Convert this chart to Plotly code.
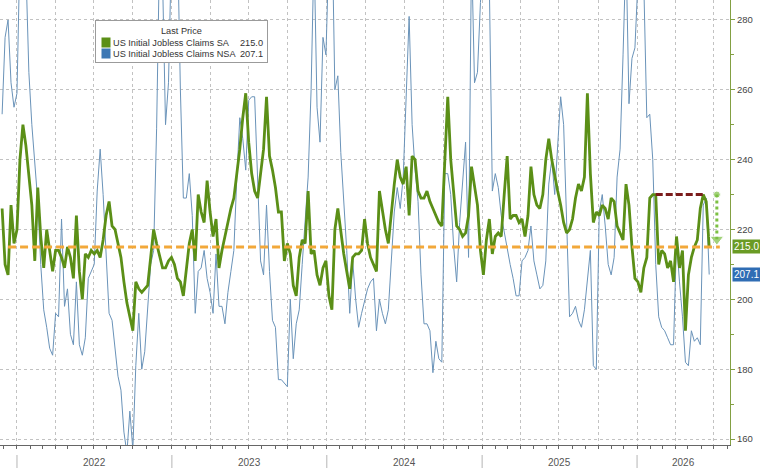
import pandas as pd
import plotly.graph_objects as go

# ---------------- data ----------------
start_date = "2021-11-27"   # weekly observations (week ending Saturday)

sa_claims = [
    226, 210, 207, 227, 216, 220, 240, 250, 244, 235,
    227, 211, 232, 218, 209, 220, 214, 208, 214, 214,
    212, 209, 215, 212, 206, 224, 208, 200, 213, 212,
    214, 213, 214, 212, 217, 224, 228, 221, 220, 216,
    212, 205, 199, 195, 191, 205, 203, 202, 203, 204,
    212, 220, 216, 212, 209, 209, 211, 212, 210, 206,
    205, 201, 209, 216, 220, 211, 230, 225, 222, 234,
    225, 218, 223, 209, 214, 218, 223, 226, 229, 236,
    243, 252, 259, 245, 236, 231, 229, 236, 243, 258,
    241, 237, 232, 225, 225, 211, 216, 213, 204, 201,
    212, 217, 216, 231, 213, 214, 207, 204, 209, 211,
    201, 197, 220, 226, 219, 213, 208, 203, 212, 213,
    213, 214, 223, 216, 212, 210, 208, 231, 225, 220,
    216, 225, 233, 240, 235, 233, 238, 224, 241, 240,
    231, 229, 229, 231, 228, 226, 224, 222, 221, 241,
    258, 240, 230, 221, 220, 218, 219, 224, 238, 232,
    227, 214, 207, 217, 223, 213, 218, 219, 218, 230,
    241, 223, 224, 224, 222, 223, 218, 224, 238, 230,
    227, 226, 230, 240, 246, 240, 235, 231, 227, 222,
    219, 220, 223, 229, 233, 231, 235, 259, 236, 222,
    225, 224, 227, 226, 223, 229, 228, 221, 219, 217,
    233, 227, 215, 206, 205, 202, 209, 212, 229, 230,
    230, 210, 214, 213, 209, 211, 205, 218, 209, 214,
    191, 207, 212, 215, 217, 226, 230, 228, 215.0,
]

nsa_claims = [
    253, 275, 280, 262, 255, 259, 300, 310, 295, 265,
    250, 240, 228, 210, 197, 192, 186, 184, 196, 195,
    223, 198, 203, 190, 187, 205, 187, 184, 189, 206,
    208, 210, 231, 243, 230, 214, 196, 194, 186, 178,
    174, 162, 156, 168, 157, 181, 196, 180, 185, 197,
    210, 214, 249, 300, 292, 250, 262, 300, 320, 305,
    260, 229, 229, 236, 224, 196, 208, 209, 214, 206,
    202, 196, 213, 198, 198, 193, 202, 208, 214, 235,
    252, 246, 237, 257, 258, 258, 237, 211, 207, 227,
    208, 194, 192, 177, 177, 176, 175, 200, 183, 193,
    197, 210, 222, 235, 260, 300, 255, 245, 275, 270,
    300, 310, 260, 264, 242, 228, 214, 196, 211, 200,
    192, 196, 200, 203, 205, 206, 191, 200, 196, 193,
    197, 210, 225, 232, 226, 235, 258, 281, 250, 237,
    228, 207, 193, 193, 191, 179, 188, 183, 182, 236,
    236, 230, 215, 205, 222, 233, 245, 212, 300, 262,
    265, 285, 300, 310, 290, 231, 236, 232, 224, 219,
    215, 210, 206, 201, 201, 211, 212, 214, 221, 211,
    207, 203, 204, 211, 233, 240, 230, 243, 258, 250,
    220, 195, 196, 198, 194, 192, 197, 205, 214, 181,
    180, 225, 230, 221, 210, 207, 212, 235, 243, 270,
    300, 256, 269, 272, 300, 310, 290, 252, 253, 240,
    210, 195, 192, 191, 189, 187, 187, 217, 205, 195,
    182, 181, 191, 188, 189, 187, 227, 229, 207.1,
]

sa_name = "US Initial Jobless Claims SA"
nsa_name = "US Initial Jobless Claims NSA"
legend_title = "Last Price"
year_labels = ["2022", "2023", "2024", "2025", "2026"]
y_ticks = [160, 180, 200, 220, 240, 260, 280]
x_range = ["2021-11-22", "2026-08-08"]
y_range = [158.3, 285.7]

reference_level = 215      # orange dashed line
prior_peak_level = 230     # dark red dashed line
peak_start_index = 220
peak_end_index = 236
arrow_from = 230
arrow_to = 215

# ---------------- styles ----------------
FONT = "Liberation Sans, Arial, sans-serif"
GREEN = "#5b8f17"
BLUE = "#6a93b9"
ORANGE = "#f2a83a"
DARKRED = "#7b1c1c"
ARROW_GREEN = "#7cc043"
AXIS_GREEN = "#83a043"
GRID = "#c2c2c2"
TXT = "#333333"
LEG_FS = 9.2

W, H = 760, 468
ML, MR, MT, MB = 0, 30, 0, 23
PW, PH = W - ML - MR, H - MT - MB


def px(x):
    return x / PW


def py(y):
    return 1 - y / PH


dates = pd.date_range(start_date, periods=len(sa_claims), freq="7D")

fig = go.Figure()

fig.add_trace(go.Scatter(x=dates, y=nsa_claims, mode="lines", name=nsa_name,
                         line=dict(color=BLUE, width=1), showlegend=False))
fig.add_trace(go.Scatter(x=dates, y=sa_claims, mode="lines", name=sa_name,
                         line=dict(color=GREEN, width=2.8), showlegend=False))

# orange reference line
fig.add_trace(go.Scatter(
    x=[dates[2], dates[-1] + pd.Timedelta(days=25)],
    y=[reference_level, reference_level], mode="lines",
    line=dict(color=ORANGE, width=3, dash="8px,4px"), showlegend=False))

# dark red prior-peak line
fig.add_trace(go.Scatter(
    x=[dates[peak_start_index], dates[peak_end_index]],
    y=[prior_peak_level, prior_peak_level], mode="lines",
    line=dict(color=DARKRED, width=3, dash="7px,3px"), showlegend=False))

# green dotted arrow
arrow_date = dates[-1] + pd.Timedelta(days=18)
fig.add_trace(go.Scatter(
    x=[arrow_date, arrow_date], y=[arrow_from, arrow_to + 2.2],
    mode="lines+markers",
    line=dict(color=ARROW_GREEN, width=3, dash="3px,3px"),
    marker=dict(symbol=["circle", "triangle-down"], size=[7, 12],
                color=ARROW_GREEN),
    showlegend=False))

shapes = []
annotations = []

# year separators and labels
rs, re_ = pd.Timestamp(x_range[0]), pd.Timestamp(x_range[1])
for lab in year_labels:
    ys = pd.Timestamp(f"{lab}-01-01")
    ye = pd.Timestamp(f"{int(lab) + 1}-01-01")
    a, b = max(ys, rs), min(ye, re_)
    mid = a + (b - a) / 2
    shapes.append(dict(type="line", xref="x", yref="paper", x0=ys, x1=ys,
                       y0=-10 / PH, y1=-MB / PH,
                       line=dict(color="#b5b5b5", width=1)))
    annotations.append(dict(x=mid, y=-17.5 / PH, xref="x", yref="paper",
                            text=lab, showarrow=False, yanchor="middle",
                            xanchor="center",
                            font=dict(family=FONT, size=10, color="#555")))

# manual legend (annotation boxes so they sit above all lines)
NB = "\u00a0"
annotations.append(dict(x=px(95), y=py(20), xref="paper", yref="paper",
                        xanchor="left", yanchor="top", text=NB,
                        showarrow=False, width=171, height=41, borderpad=0,
                        bgcolor="white", bordercolor="#9b9b9b", borderwidth=1,
                        font=dict(size=2)))
for col, yy in [(GREEN, 42.5), ("#3d78b4", 53.5)]:
    annotations.append(dict(x=px(101), y=py(yy), xref="paper", yref="paper",
                            xanchor="left", yanchor="middle", text=NB,
                            showarrow=False, width=8, height=9, borderpad=0,
                            bgcolor=col, font=dict(size=2)))
annotations.append(dict(x=px(181), y=py(31.5), xref="paper", yref="paper",
                        text=legend_title, showarrow=False,
                        xanchor="center", yanchor="middle",
                        font=dict(family=FONT, size=LEG_FS, color=TXT)))
for name, val, yy in [(sa_name, sa_claims[-1], 42.5),
                      (nsa_name, nsa_claims[-1], 53.5)]:
    annotations.append(dict(x=px(111), y=py(yy), xref="paper", yref="paper",
                            text=name, showarrow=False, xanchor="left",
                            yanchor="middle",
                            font=dict(family=FONT, size=LEG_FS, color=TXT)))
    annotations.append(dict(x=px(265), y=py(yy), xref="paper", yref="paper",
                            text=f"{val:.1f}", showarrow=False,
                            xanchor="right", yanchor="middle",
                            font=dict(family=FONT, size=LEG_FS, color=TXT)))

# last value tags on right axis
for val, col in [(sa_claims[-1], "#6a9b24"), (nsa_claims[-1], "#2f6db4")]:
    annotations.append(dict(x=1, y=val, xref="paper", yref="y",
                            text=f"{val:.1f}", showarrow=False,
                            xanchor="left", yanchor="middle", xshift=2,
                            bgcolor=col, borderpad=1,
                            font=dict(family=FONT, size=10, color="white")))

fig.update_layout(
    width=W, height=H,
    margin=dict(l=ML, r=MR, t=MT, b=MB),
    paper_bgcolor="white", plot_bgcolor="white",
    showlegend=False,
    shapes=shapes, annotations=annotations,
    xaxis=dict(range=x_range, showgrid=True, gridcolor=GRID, griddash="dot",
               gridwidth=1, dtick="M3", tick0="2022-01-01", ticks="outside",
               ticklen=3, tickcolor="#666", showticklabels=False,
               showline=True, linecolor="#666", linewidth=1, zeroline=False,
               minor=dict(dtick="M1", ticks="outside", ticklen=3,
                          tickcolor="#666", showgrid=False)),
    yaxis=dict(side="right", range=y_range, tickvals=y_ticks,
               showgrid=True, gridcolor=GRID, griddash="dot", gridwidth=1,
               ticks="outside", ticklen=4, tickcolor=AXIS_GREEN,
               showline=True, linecolor=AXIS_GREEN, linewidth=1,
               zeroline=False,
               tickfont=dict(family=FONT, size=9.5, color="#444"),
               minor=dict(dtick=10, tick0=160, ticks="outside", ticklen=3,
                          tickcolor=AXIS_GREEN, showgrid=False)),
)

fig.write_html("out.html")
